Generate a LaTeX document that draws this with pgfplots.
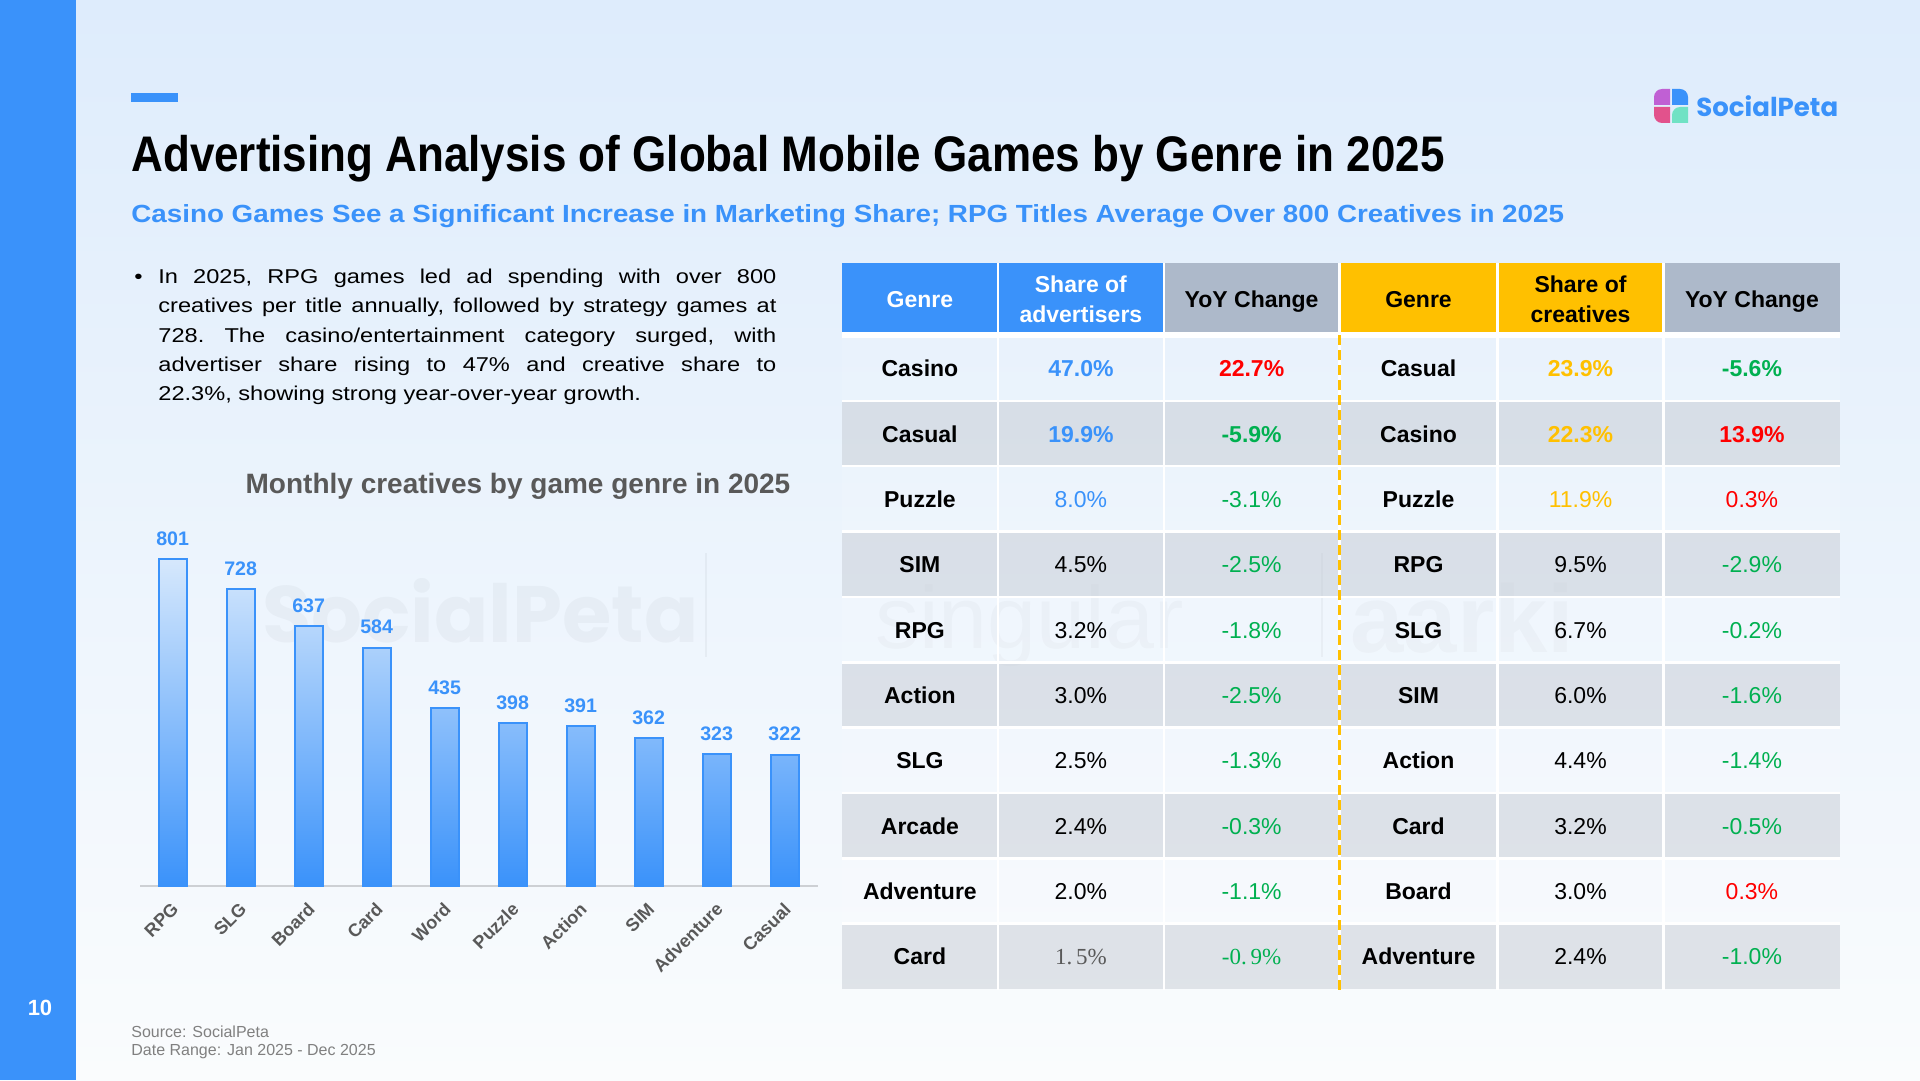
\documentclass[border=0pt]{standalone}
\usepackage{pgfplots}
\pgfplotsset{compat=1.18}
\usepackage{fontspec}
\setmainfont{Liberation Sans}
\newfontfamily\titlefont{Liberation Sans}[FakeStretch=0.88]
\newfontfamily\subfont{Liberation Sans}[FakeStretch=1.12]
\newfontfamily\bodyfont{Liberation Sans}[FakeStretch=1.18]
\newfontfamily\logofont{Poppins}
\newfontfamily\serifnum{Liberation Serif}

\definecolor{brand}{RGB}{58,146,250}
\definecolor{hdrgray}{RGB}{173,185,202}
\definecolor{hdrgold}{RGB}{255,192,0}
\definecolor{upred}{RGB}{255,0,0}
\definecolor{downgreen}{RGB}{0,176,80}
\definecolor{ink}{RGB}{89,89,89}
\definecolor{footgray}{RGB}{128,128,128}
\definecolor{bgtop}{RGB}{222,236,252}
\definecolor{bgbot}{RGB}{250,252,253}
\definecolor{stripe}{RGB}{199,204,212}
\definecolor{barlight}{RGB}{214,232,252}
\definecolor{axisgray}{RGB}{205,208,212}
\definecolor{lpurple}{RGB}{192,96,212}
\definecolor{lpink}{RGB}{226,82,140}
\definecolor{lmint}{RGB}{112,226,196}

\newcommand{\fs}[1]{\fontsize{#1bp}{#1bp}\selectfont}
\newcommand{\tf}{\fontsize{11.5bp}{13bp}\selectfont}

% value styles used in the table
\newcommand{\vb}[1]{\textcolor{brand}{\bfseries #1}}
\newcommand{\vbl}[1]{\textcolor{brand}{#1}}
\newcommand{\vo}[1]{\textcolor{hdrgold}{\bfseries #1}}
\newcommand{\vol}[1]{\textcolor{hdrgold}{#1}}
\newcommand{\vr}[1]{\textcolor{upred}{\bfseries #1}}
\newcommand{\vrl}[1]{\textcolor{upred}{#1}}
\newcommand{\vg}[1]{\textcolor{downgreen}{\bfseries #1}}
\newcommand{\vgl}[1]{\textcolor{downgreen}{#1}}

% one table row: index, genre, share, yoy | genre, share, yoy
\newcommand{\tabrow}[7]{%
  \pgfmathsetmacro{\by}{1080-376.7-65.35*#1}
  \node[anchor=base, inner sep=0, font=\tf\bfseries] at (919.9,\by) {#2};
  \node[anchor=base, inner sep=0, font=\tf] at (1080.9,\by) {#3};
  \node[anchor=base, inner sep=0, font=\tf] at (1251.6,\by) {#4};
  \node[anchor=base, inner sep=0, font=\tf\bfseries] at (1418.5,\by) {#5};
  \node[anchor=base, inner sep=0, font=\tf] at (1580.5,\by) {#6};
  \node[anchor=base, inner sep=0, font=\tf] at (1751.9,\by) {#7};
}

\begin{document}
\begin{tikzpicture}[x=0.5bp, y=0.5bp]
\useasboundingbox (0,0) rectangle (1920,1080);

% page background and side band
\shade[top color=bgtop, bottom color=bgbot] (0,0) rectangle (1920,1080);
\fill[brand] (0,0) rectangle (76,1080);
\node[text=white, font=\fs{11}\bfseries] at (40,72) {10};

% heading
\fill[brand] (131,977.5) rectangle (178,987);
\node[anchor=base west, inner sep=0] at (131,908)
  {\titlefont\bfseries\fs{25}Advertising Analysis of Global Mobile Games by Genre in 2025};
\node[anchor=base west, inner sep=0, text=brand] at (131,857.3)
  {\subfont\bfseries\fs{12.4}Casino Games See a Significant Increase in Marketing Share; RPG Titles Average Over 800 Creatives in 2025};

% brand mark
\fill[lpurple] (1670,975) -- (1654,975) -- (1654,983) arc (180:90:8) -- (1670,991) -- cycle;
\fill[brand]   (1672,975) -- (1672,991) -- (1680,991) arc (90:0:8) -- (1688,975) -- cycle;
\fill[lpink]   (1670,973) -- (1670,957) -- (1662,957) arc (270:180:8) -- (1654,973) -- cycle;
\fill[lmint]   (1672,965) arc (180:90:8) -- (1680,973) -- (1688,973) -- (1688,957) -- (1672,957) -- cycle;
\node[anchor=base west, inner sep=0, text=brand] at (1696,963) {\logofont\bfseries\fs{13}SocialPeta};

% summary paragraph
\node[anchor=base west, inner sep=0] at (134,796.7) {\bodyfont\fs{10}\textbullet};
\node[anchor=base west, inner sep=0] at (158,796.7) {\parbox[t]{309bp}{\bodyfont\fontsize{10bp}{14.7bp}\selectfont
  \frenchspacing\tolerance=10000\emergencystretch=2em
  In 2025, RPG games led ad spending with over 800\linebreak
  creatives per title annually, followed by strategy games at\linebreak
  728. The casino/entertainment category surged, with\linebreak
  advertiser share rising to 47\% and creative share to\linebreak
  22.3\%, showing strong year-over-year growth.}};

% faint background marks
\node[anchor=base west, inner sep=0, text=black, text opacity=0.03] at (262,438) {\logofont\bfseries\fs{40}SocialPeta};
\draw[black, opacity=0.04, line width=1bp] (706,527) -- (706,423);
\node[anchor=base west, inner sep=0, text=black, text opacity=0.022] at (875,432) {\fs{44}singular};
\draw[black, opacity=0.04, line width=1bp] (1322,527) -- (1322,423);
\node[anchor=base west, inner sep=0, text=black, text opacity=0.022] at (1350,428) {\bfseries\fs{48}aarki};

% chart title
\node[anchor=base, inner sep=0, text=ink] at (518,587) {\bfseries\fs{14}Monthly creatives by game genre in 2025};

% bar chart
\begin{axis}[
  at={(70bp,97bp)}, anchor=south west,
  scale only axis, width=339bp, height=183.75bp,
  xmin=-0.48, xmax=9.49, ymin=0, ymax=900,
  axis x line*=bottom, axis y line=none,
  x axis line style={draw=axisgray, line width=1bp, -},
  xtick=data,
  xticklabels={RPG,SLG,Board,Card,Word,Puzzle,Action,SIM,Adventure,Casual},
  xticklabel style={xshift=-1bp, yshift=-7.5bp, rotate=45, anchor=north east, font=\fs{9}\bfseries, text=ink, inner sep=0pt},
  major tick length=0pt,
  ytick=\empty,
  clip=false,
  /pgf/number format/assume math mode=true,
  /pgf/number format/fixed, /pgf/number format/precision=0,
  /pgf/number format/1000 sep={},
]
\addplot[ybar, bar width=14bp, draw=brand, line width=1bp,
  top color=barlight, bottom color=brand,
  nodes near coords,
  every node near coord/.append style={font=\fs{9.8}\bfseries, text=brand, inner sep=0pt, yshift=6.2bp}]
  coordinates {(0,801) (1,728) (2,637) (3,584) (4,435) (5,398) (6,391) (7,362) (8,323) (9,322)};
\end{axis}

% table: header cells
\fill[brand]   (841.7,816.7) rectangle (1163.8,748.3);
\fill[hdrgray] (1163.8,816.7) rectangle (1339.4,748.3);
\fill[hdrgold] (1339.4,816.7) rectangle (1663.4,748.3);
\fill[hdrgray] (1663.4,816.7) rectangle (1840.4,748.3);

% table: row bands
\foreach \i in {0,...,9}{
  \pgfmathsetmacro{\yt}{1080-335.5-65.35*\i}
  \pgfmathsetmacro{\yb}{\yt-65.35}
  \ifodd\i
    \fill[stripe, opacity=0.5] (841.7,\yt) rectangle (1840.4,\yb);
  \else
    \fill[white, opacity=0.12] (841.7,\yt) rectangle (1840.4,\yb);
  \fi
}
% table: white rules
\fill[white] (841.7,748.3) rectangle (1840.4,742.3);
\foreach \i in {1,...,9}{
  \pgfmathsetmacro{\yl}{1080-335.5-65.35*\i}
  \draw[white, line width=1.25bp] (841.7,\yl) -- (1840.4,\yl);
}
\foreach \x in {998,1163.8,1339.4,1497.5,1663.4}{
  \draw[white, line width=1.25bp] (\x,816.7) -- (\x,90);
}
\draw[hdrgold, line width=1.25bp, dash pattern=on 5bp off 2.5bp] (1339.4,745) -- (1339.4,90);

% table: header text
\node[anchor=base, inner sep=0, text=white, font=\tf\bfseries] at (919.9,772.5) {Genre};
\node[anchor=base, inner sep=0, text=white, font=\tf\bfseries] at (1080.9,787.3) {Share of};
\node[anchor=base, inner sep=0, text=white, font=\tf\bfseries] at (1080.9,757.3) {advertisers};
\node[anchor=base, inner sep=0, font=\tf\bfseries] at (1251.6,772.5) {YoY Change};
\node[anchor=base, inner sep=0, font=\tf\bfseries] at (1418.5,772.5) {Genre};
\node[anchor=base, inner sep=0, font=\tf\bfseries] at (1580.5,787.3) {Share of};
\node[anchor=base, inner sep=0, font=\tf\bfseries] at (1580.5,757.3) {creatives};
\node[anchor=base, inner sep=0, font=\tf\bfseries] at (1751.9,772.5) {YoY Change};

% table: body
\tabrow{0}{Casino}{\vb{47.0\%}}{\vr{22.7\%}}{Casual}{\vo{23.9\%}}{\vg{-5.6\%}}
\tabrow{1}{Casual}{\vb{19.9\%}}{\vg{-5.9\%}}{Casino}{\vo{22.3\%}}{\vr{13.9\%}}
\tabrow{2}{Puzzle}{\vbl{8.0\%}}{\vgl{-3.1\%}}{Puzzle}{\vol{11.9\%}}{\vrl{0.3\%}}
\tabrow{3}{SIM}{4.5\%}{\vgl{-2.5\%}}{RPG}{9.5\%}{\vgl{-2.9\%}}
\tabrow{4}{RPG}{3.2\%}{\vgl{-1.8\%}}{SLG}{6.7\%}{\vgl{-0.2\%}}
\tabrow{5}{Action}{3.0\%}{\vgl{-2.5\%}}{SIM}{6.0\%}{\vgl{-1.6\%}}
\tabrow{6}{SLG}{2.5\%}{\vgl{-1.3\%}}{Action}{4.4\%}{\vgl{-1.4\%}}
\tabrow{7}{Arcade}{2.4\%}{\vgl{-0.3\%}}{Card}{3.2\%}{\vgl{-0.5\%}}
\tabrow{8}{Adventure}{2.0\%}{\vgl{-1.1\%}}{Board}{3.0\%}{\vrl{0.3\%}}
\tabrow{9}{Card}{{\serifnum\textcolor{ink}{1.\,5\%}}}{{\serifnum\vgl{-0.\,9\%}}}{Adventure}{2.4\%}{\vgl{-1.0\%}}

% footer
\node[anchor=base west, inner sep=0, text=footgray, font=\fs{8}] at (131,43) {Source: SocialPeta};
\node[anchor=base west, inner sep=0, text=footgray, font=\fs{8}] at (131,25) {Date Range: Jan 2025 - Dec 2025};
\end{tikzpicture}
\end{document}
